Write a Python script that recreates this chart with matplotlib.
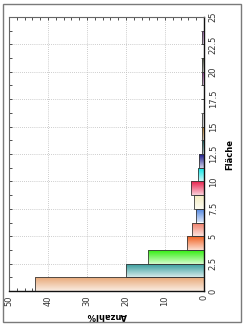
import matplotlib
matplotlib.use('Agg')
import matplotlib.pyplot as plt
import numpy as np
from matplotlib.patches import Rectangle
from matplotlib.colors import to_rgb

# Data: histogram of Fläche (bins of 1.25), percentage per bin
bin_starts = [0, 1.25, 2.5, 3.75, 5, 6.25, 7.5, 8.75, 10, 11.25, 12.5, 13.75,
              15, 16.25, 17.5, 18.75, 20, 21.25, 22.5, 23.75]
anzahl = [43.3, 20.0, 14.3, 4.3, 3.2, 2.1, 2.5, 3.3, 1.5, 1.2, 0.4, 0.6,
          0.6, 0.0, 0.0, 0.6, 0.5, 0.0, 0.6, 0.0]
bar_colors = ['#e8a878', '#2e9898', '#33ee10', '#f06020', '#f07862', '#4a82e0',
              '#f4ecc0', '#e8204c', '#00e6e6', '#1c1c8c', '#1e6a6a', '#d09030',
              '#d8d8d8', '#ffffff', '#ffffff', '#a040a0', '#5e6650', '#ffffff',
              '#a060b0', '#ffffff']
bin_width = 1.25
flaeche_ticks = [0, 2.5, 5, 7.5, 10, 12.5, 15, 17.5, 20, 22.5, 25]
flaeche_labels = ['0', '2.5', '5', '7.5', '10', '12.5', '15', '17.5', '20', '22.5', '25']
anzahl_ticks = [0, 10, 20, 30, 40, 50]
anzahl_labels = ['0', '10', '20', '30', '40', '50']

W, H = 245, 325
fig = plt.figure(figsize=(W / 100, H / 100), dpi=100)
fig.patches.append(Rectangle((3 / W, 3 / H), 238 / W, 318 / H, transform=fig.transFigure,
                             fill=False, edgecolor='#7a7a7a', lw=1.0))
ax = fig.add_axes([9 / W, 34 / H, 195 / W, 274 / H])

bars = ax.barh(bin_starts, anzahl, height=bin_width, align='edge',
               color='none', edgecolor='#3a3a3a', linewidth=0.6, zorder=3)
for bar, val, col in zip(bars, anzahl, bar_colors):
    if val <= 0:
        bar.set_visible(False)
        continue
    c = np.array(to_rgb(col))
    light = c * 0.22 + np.ones(3) * 0.78
    t = np.linspace(0, 1, 32)[:, None]
    grad = (light[None, :] * (1 - t) + c[None, :] * t)[:, None, :]
    x0, y0 = bar.get_x(), bar.get_y()
    im = ax.imshow(grad, extent=(x0, x0 + bar.get_width(), y0, y0 + bar.get_height()),
                   origin='lower', aspect='auto', zorder=2, interpolation='bilinear')
    im.set_clip_path(bar)

ax.set_xlim(50, 0)
ax.set_ylim(0, 25)

ax.set_yticks(flaeche_ticks)
ax.set_yticklabels(flaeche_labels)
ax.set_yticks(np.array(bin_starts[1::2]), minor=True)
ax.set_xticks(anzahl_ticks)
ax.set_xticklabels(anzahl_labels)
ax.set_xticks([2, 4, 6, 8, 12, 14, 16, 18, 22, 24, 26, 28, 32, 34, 36, 38, 42, 44, 46, 48], minor=True)

ax.grid(True, which='major', linestyle=(0, (1, 1.5)), color='#bcbcbc', linewidth=0.6, zorder=0)
ax.set_axisbelow(True)

ax.tick_params(axis='y', which='both', left=True, right=True, labelleft=False, labelright=True,
               direction='in', length=2.5, width=0.6, labelsize=6, pad=3.5, colors='#333333')
ax.tick_params(axis='x', which='both', top=True, bottom=True, direction='in', length=2.5,
               width=0.6, labelsize=6, pad=3, colors='#333333')
for t in ax.get_yticklabels():
    t.set_rotation(90)
    t.set_va('center')
    t.set_ha('left')
for t in ax.get_xticklabels():
    t.set_rotation(90)
    t.set_va('top')
    t.set_ha('center')

for s in ['right', 'bottom']:
    ax.spines[s].set_color('#111111')
    ax.spines[s].set_linewidth(1.0)
for s in ['left', 'top']:
    ax.spines[s].set_color('#666666')
    ax.spines[s].set_linewidth(0.8)

ax.yaxis.set_label_position('right')
ax.set_ylabel('Fläche', rotation=90, fontsize=6, fontweight='bold', labelpad=5)
ax.set_xlabel('Anzahl%', rotation=180, fontsize=6, fontweight='bold', labelpad=4)

fig.savefig('out.png', dpi=100)
